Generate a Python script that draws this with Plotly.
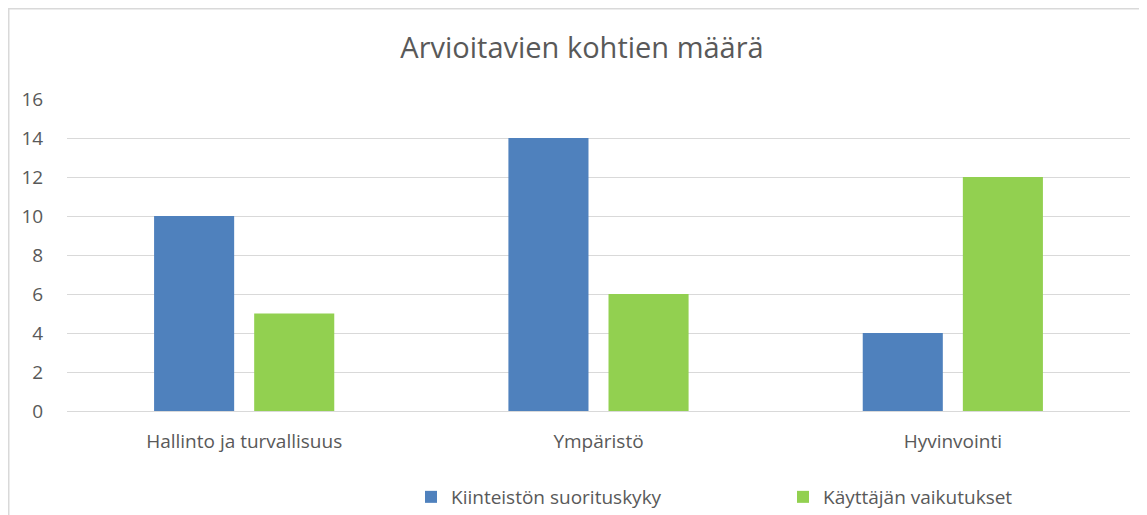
import plotly.graph_objects as go

categories = ["Hallinto ja turvallisuus", "Ympäristö", "Hyvinvointi"]
series_names = ["Kiinteistön suorituskyky", "Käyttäjän vaikutukset"]
kiinteisto = [10, 14, 4]
kayttaja = [5, 6, 12]
colors = ["#4F81BD", "#92D050"]
title = "Arvioitavien kohtien määrä"

# page body has an 8px margin, so the figure is sized/offset to compensate
OFF = 8
W, H = 1147 - OFF, 515 - OFF
L, R, T, B = 67 - OFF, 1130 - OFF, 99 - OFF, 411 - OFF
pw, ph = R - L, B - T

fig = go.Figure()
for name, vals, c in zip(series_names, [kiinteisto, kayttaja], colors):
    fig.add_trace(go.Bar(x=categories, y=vals, name=name, marker=dict(color=c, line=dict(width=0))))

font = "'Open Sans', sans-serif"
grey = "#595959"
fs = 19
fig.update_layout(
    width=W, height=H,
    margin=dict(l=L, r=W - R, t=T, b=H - B, autoexpand=False),
    paper_bgcolor="white", plot_bgcolor="white",
    barmode="group", bargap=0.435, bargroupgap=0.2,
    title=dict(text=title, xref="container", x=(582 - OFF) / W, xanchor="center",
               yref="container", y=1 - (48 - OFF) / H, yanchor="middle",
               font=dict(family=font, size=29, color=grey)),
    font=dict(family=font, size=fs, color=grey),
    xaxis=dict(showgrid=False, showline=False, ticks="outside", ticklen=13, tickcolor="rgba(0,0,0,0)",
               tickfont=dict(size=fs, color=grey)),
    yaxis=dict(range=[0, 16], dtick=2, showgrid=True, gridcolor="#D9D9D9", gridwidth=1,
               zeroline=True, zerolinecolor="#D9D9D9", zerolinewidth=1,
               showline=False, ticks="outside", ticklen=19, tickcolor="rgba(0,0,0,0)",
               tickfont=dict(size=fs, color=grey)),
    legend=dict(orientation="h", x=(411 - OFF - L) / pw, xanchor="left", y=(B - (497 - OFF)) / ph,
                yanchor="middle", entrywidth=327, entrywidthmode="pixels",
                font=dict(size=fs, color=grey), traceorder="normal", itemwidth=30),
    showlegend=True,
)

fig.add_shape(type="rect", xref="paper", yref="paper",
              x0=(0.75 - L) / pw, x1=(1160 - L) / pw, y0=(B - 530) / ph, y1=(B - 0.75) / ph,
              line=dict(color="#D9D9D9", width=1.5), fillcolor="rgba(0,0,0,0)", layer="below")

fig.write_html("out.html")
